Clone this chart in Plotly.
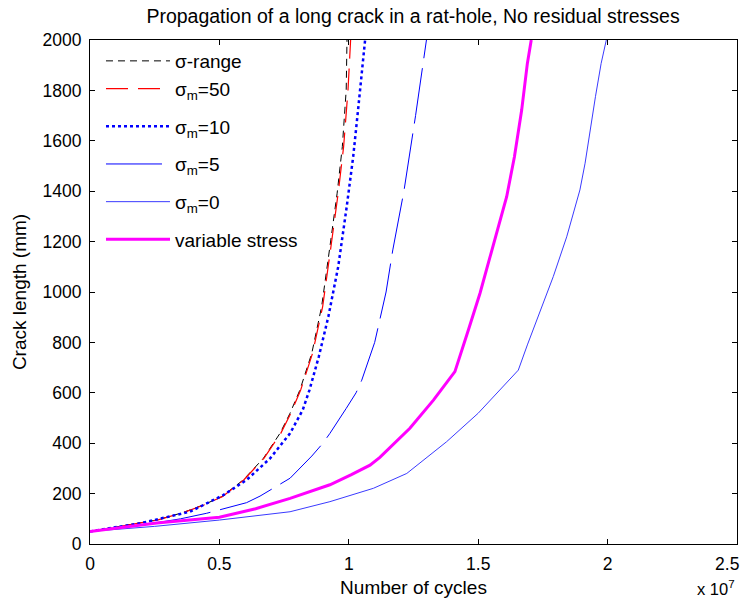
import plotly.graph_objects as go

# ---- data (cycles in units of 1e7, crack length in mm) ----
range_cycles = [0, 0.12, 0.258, 0.36, 0.438, 0.509, 0.592, 0.67, 0.734, 0.773, 0.811, 0.857, 0.895, 0.927, 0.955, 0.975, 0.99, 0.993]
range_crack = [50, 70, 95, 125, 155, 188, 254, 340, 439, 519, 611, 757, 942, 1180, 1392, 1577, 1802, 2000]

m50_cycles = [0, 0.12, 0.26, 0.362, 0.44, 0.511, 0.594, 0.672, 0.737, 0.776, 0.814, 0.86, 0.899, 0.931, 0.959, 0.98, 0.997, 1.007]
m50_crack = [50, 70, 95, 125, 155, 188, 254, 340, 439, 519, 611, 757, 942, 1180, 1392, 1577, 1802, 2000]

m10_cycles = [0, 0.193, 0.386, 0.515, 0.605, 0.696, 0.773, 0.822, 0.848, 0.884, 0.921, 0.959, 0.992, 1.017, 1.037, 1.056, 1.063]
m10_crack = [50, 82, 128, 194, 254, 340, 439, 532, 611, 743, 902, 1100, 1339, 1537, 1735, 1934, 2000]

m5_cycles = [0, 0.2, 0.35, 0.451, 0.605, 0.657, 0.773, 0.857, 0.90, 0.927, 0.99, 1.028, 1.05, 1.08, 1.10, 1.144, 1.17, 1.213, 1.258, 1.30]
m5_crack = [50, 75, 100, 122, 164, 190, 261, 349, 400, 439, 538, 600, 650, 737, 800, 1000, 1167, 1400, 1700, 2000]

m0_cycles = [0, 0.25, 0.5, 0.773, 0.927, 1.095, 1.224, 1.378, 1.50, 1.655, 1.69, 1.712, 1.737, 1.79, 1.842, 1.868, 1.893, 1.913, 1.932, 1.953, 1.975, 1.995]
m0_crack = [50, 70, 95, 128, 168, 221, 280, 406, 519, 690, 790, 849, 915, 1061, 1219, 1312, 1405, 1511, 1643, 1775, 1907, 2000]

var_cycles = [0, 0.258, 0.5, 0.64, 0.773, 0.927, 1.01, 1.082, 1.12, 1.236, 1.327, 1.41, 1.462, 1.507, 1.546, 1.61, 1.64, 1.668, 1.69, 1.705]
var_crack = [50, 83, 106, 140, 181, 235, 275, 313, 344, 459, 571, 684, 849, 995, 1140, 1378, 1537, 1722, 1907, 2000]

x_ticks = [0, 0.5, 1, 1.5, 2, 2.5]
x_ticklabels = ["0", "0.5", "1", "1.5", "2", "2.5\u00a0\u00a0\u00a0\u00a0"]
y_ticks = [0, 200, 400, 600, 800, 1000, 1200, 1400, 1600, 1800, 2000]

FONT = "Liberation Sans, Arial, sans-serif"

fig = go.Figure()
series = [
    ("σ-range", range_cycles, range_crack, dict(color="#000000", width=1, dash="7px,5px"), "g0"),
    ("σ<sub>m</sub>=50", m50_cycles, m50_crack, dict(color="#ff0000", width=1.2, dash="22px,10px"), "g0"),
    ("σ<sub>m</sub>=10", m10_cycles, m10_crack, dict(color="#0000ff", width=2.5, dash="dot"), "g2"),
    ("σ<sub>m</sub>=5", m5_cycles, m5_crack, dict(color="#0000ff", width=1, dash="56px,10px"), "g3"),
    ("σ<sub>m</sub>=0", m0_cycles, m0_crack, dict(color="#3a3aff", width=1), "g4"),
    ("variable stress", var_cycles, var_crack, dict(color="#ff00ff", width=3), "g5"),
]
for name, xs, ys, line, grp in series:
    fig.add_trace(go.Scatter(x=xs, y=ys, mode="lines", name=name, line=line,
                             legendgroup=grp))

fig.update_layout(
    width=741, height=594,
    paper_bgcolor="white", plot_bgcolor="white",
    margin=dict(l=82, r=12, t=32, b=58, autoexpand=False),
    font=dict(family=FONT, size=17.5, color="#000000"),
    title=dict(text="Propagation of a long crack in a rat-hole, No residual stresses",
               x=0.5466, xanchor="center", y=0.998, yanchor="top",
               font=dict(size=19.5)),
    showlegend=True,
    legend=dict(x=0.017, y=0.996, xanchor="left", yanchor="top",
                bgcolor="rgba(255,255,255,0)", borderwidth=0,
                itemwidth=64, tracegroupgap=10,
                font=dict(family=FONT, size=19)),
    xaxis=dict(range=[0, 2.5], tickvals=x_ticks, ticktext=x_ticklabels,
               showline=True, linecolor="black", linewidth=1, mirror="ticks",
               ticks="inside", ticklen=5, tickcolor="black", showgrid=False, zeroline=False,
               ticklabelstandoff=4, ticklabeloverflow="allow",
               title=dict(text="Number of cycles", standoff=7, font=dict(size=19))),
    yaxis=dict(range=[0, 2000], tickvals=y_ticks,
               showline=True, linecolor="black", linewidth=1, mirror="ticks",
               ticks="inside", ticklen=5, tickcolor="black", showgrid=False, zeroline=False,
               ticklabelstandoff=4, ticklabeloverflow="allow",
               title=dict(text="Crack length (mm)", standoff=10, font=dict(size=19))),
)
fig.add_annotation(text="x 10<sup>7</sup>", xref="paper", yref="paper",
                   x=1.0, y=-0.088, xanchor="right", yanchor="middle",
                   showarrow=False, font=dict(family=FONT, size=16.5))

fig.write_html("out.html")
